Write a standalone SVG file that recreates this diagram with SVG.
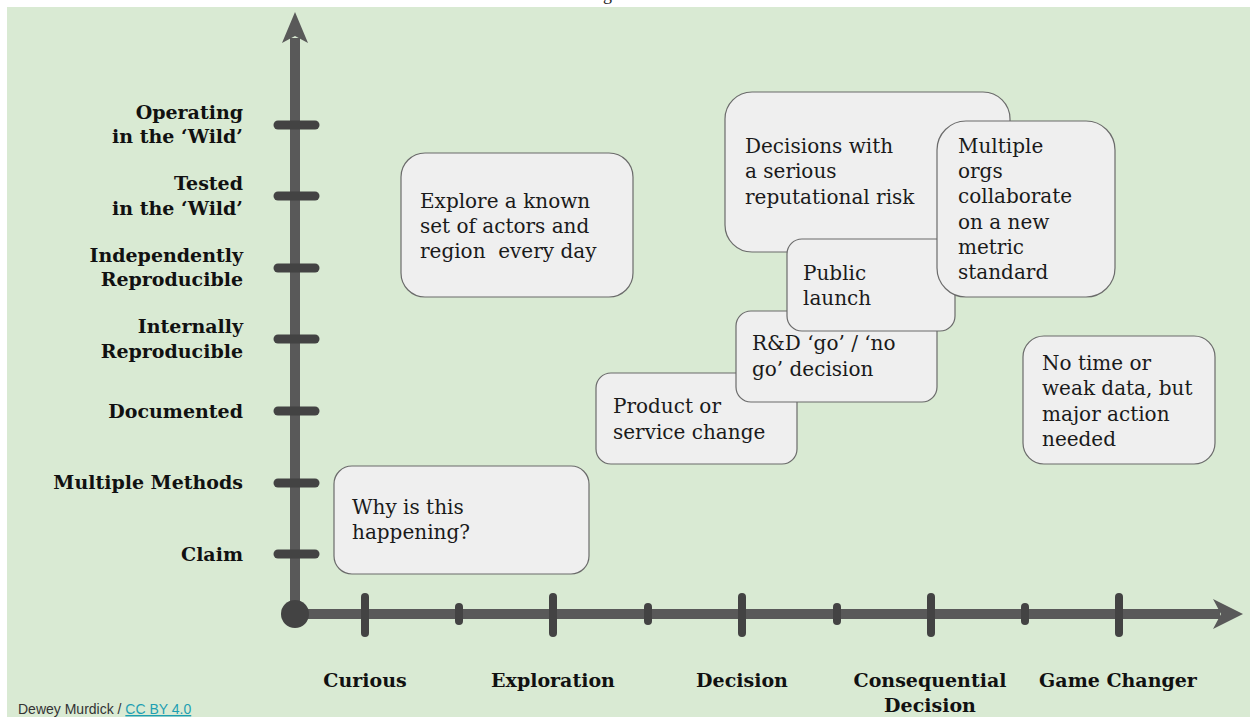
<svg xmlns="http://www.w3.org/2000/svg" width="1250" height="717" viewBox="0 0 1250 717">
  <style>
    .axis { stroke: #595959; stroke-width: 10; fill: none; }
    .head { fill: #595959; }
    .tick { stroke: #434343; stroke-width: 9; stroke-linecap: round; }
    .major { stroke: #434343; stroke-width: 8; stroke-linecap: round; }
    .minor { stroke: #434343; stroke-width: 8; stroke-linecap: round; }
    .lvl { font-family: "DejaVu Serif", "Liberation Serif", serif; font-weight: bold; font-size: 19px; fill: #111; text-anchor: end; }
    .stage { font-family: "DejaVu Serif", "Liberation Serif", serif; font-weight: bold; font-size: 19px; fill: #111; text-anchor: middle; }
    .box rect { fill: #efefef; stroke: #6b6b6b; stroke-width: 1.2; }
    .box text { font-family: "DejaVu Serif", "Liberation Serif", serif; font-size: 20px; fill: #1a1a1a; }
    .credit { font-family: "Liberation Sans", Arial, sans-serif; font-size: 14px; fill: #333; }
    .link { fill: #1e9fb2; text-decoration: underline; }
  </style>

  <!-- page and panel -->
  <rect x="0" y="0" width="1250" height="717" fill="#ffffff"/>
  <text x="588" y="0" font-family="Liberation Serif, serif" font-size="18" fill="#222">Figure</text>
  <rect x="7" y="7" width="1243" height="710" fill="#d9ead3"/>

  <!-- axes, ticks and origin -->
  <g id="connectors">
    <line class="axis" x1="295" y1="614" x2="295" y2="38"/>
    <polygon class="head" points="295,12 308,43 295,36 282,43"/>
    <line class="axis" x1="295" y1="614" x2="1220" y2="614"/>
    <polygon class="head" points="1243,614 1213,599 1221,614 1213,629"/>

    <line class="tick" x1="278" y1="125" x2="315" y2="125"/>
    <line class="tick" x1="278" y1="196" x2="315" y2="196"/>
    <line class="tick" x1="278" y1="268" x2="315" y2="268"/>
    <line class="tick" x1="278" y1="339" x2="315" y2="339"/>
    <line class="tick" x1="278" y1="411" x2="315" y2="411"/>
    <line class="tick" x1="278" y1="483" x2="315" y2="483"/>
    <line class="tick" x1="278" y1="554" x2="315" y2="554"/>

    <line class="major" x1="365" y1="597" x2="365" y2="633"/>
    <line class="major" x1="553" y1="597" x2="553" y2="633"/>
    <line class="major" x1="742" y1="597" x2="742" y2="633"/>
    <line class="major" x1="931" y1="597" x2="931" y2="633"/>
    <line class="major" x1="1119" y1="597" x2="1119" y2="633"/>
    <line class="minor" x1="459" y1="607" x2="459" y2="621"/>
    <line class="minor" x1="648" y1="607" x2="648" y2="621"/>
    <line class="minor" x1="837" y1="607" x2="837" y2="621"/>
    <line class="minor" x1="1025" y1="607" x2="1025" y2="621"/>

    <circle cx="295" cy="614" r="14" fill="#434343"/>
  </g>

  <!-- evidence levels (vertical axis) -->
  <g id="levels">
    <text class="lvl" x="243" y="119">Operating</text>
    <text class="lvl" x="243" y="143">in the ‘Wild’</text>
    <text class="lvl" x="243" y="190">Tested</text>
    <text class="lvl" x="243" y="215">in the ‘Wild’</text>
    <text class="lvl" x="243" y="262">Independently</text>
    <text class="lvl" x="243" y="286">Reproducible</text>
    <text class="lvl" x="243" y="333">Internally</text>
    <text class="lvl" x="243" y="358">Reproducible</text>
    <text class="lvl" x="243" y="418">Documented</text>
    <text class="lvl" x="243" y="489">Multiple Methods</text>
    <text class="lvl" x="243" y="561">Claim</text>
  </g>

  <!-- decision stages (horizontal axis) -->
  <g id="stages">
    <text class="stage" x="365" y="687">Curious</text>
    <text class="stage" x="553" y="687">Exploration</text>
    <text class="stage" x="742" y="687">Decision</text>
    <text class="stage" x="930" y="687">Consequential</text>
    <text class="stage" x="930" y="712">Decision</text>
    <text class="stage" x="1118" y="687">Game Changer</text>
  </g>

  <!-- scenario cards -->
  <g id="why" class="box">
    <rect x="334" y="466" width="255" height="108" rx="18"/>
    <text x="352" y="514">Why is this</text>
    <text x="352" y="539">happening?</text>
  </g>

  <g id="explore" class="box">
    <rect x="401" y="153" width="232" height="144" rx="24"/>
    <text x="420" y="208">Explore a known</text>
    <text x="420" y="233">set of actors and</text>
    <text x="420" y="258" xml:space="preserve">region  every day</text>
  </g>

  <g id="product" class="box">
    <rect x="596" y="373" width="201" height="91" rx="15"/>
    <text x="613" y="413">Product or</text>
    <text x="613" y="439">service change</text>
  </g>

  <g id="rnd" class="box">
    <rect x="736" y="311" width="201" height="91" rx="15"/>
    <text x="752" y="350">R&amp;D ‘go’ / ‘no</text>
    <text x="752" y="376">go’ decision</text>
  </g>

  <g id="reputational" class="box">
    <rect x="725" y="92" width="285" height="160" rx="27"/>
    <text x="745" y="153">Decisions with</text>
    <text x="745" y="178">a serious</text>
    <text x="745" y="204">reputational risk</text>
  </g>

  <g id="launch" class="box">
    <rect x="787" y="239" width="168" height="92" rx="15"/>
    <text x="803" y="280">Public</text>
    <text x="803" y="305">launch</text>
  </g>

  <g id="orgs" class="box">
    <rect x="937" y="121" width="178" height="176" rx="29"/>
    <text x="958" y="153">Multiple</text>
    <text x="958" y="178">orgs</text>
    <text x="958" y="203">collaborate</text>
    <text x="958" y="229">on a new</text>
    <text x="958" y="254">metric</text>
    <text x="958" y="279">standard</text>
  </g>

  <g id="urgent" class="box">
    <rect x="1023" y="336" width="192" height="128" rx="21"/>
    <text x="1042" y="370">No time or</text>
    <text x="1042" y="395">weak data, but</text>
    <text x="1042" y="421">major action</text>
    <text x="1042" y="446">needed</text>
  </g>

  <!-- attribution -->
  <text class="credit" x="18" y="714">Dewey Murdick / <tspan class="link">CC BY 4.0</tspan></text>
</svg>
